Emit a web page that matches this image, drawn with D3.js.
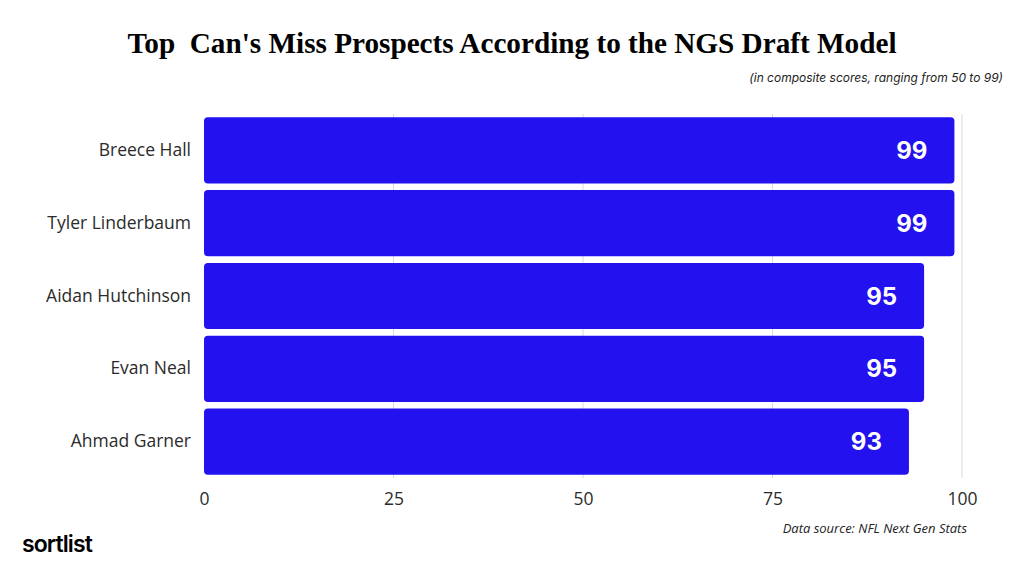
<!DOCTYPE html>
<html>
<head>
<meta charset="utf-8">
<script src="https://cdn.jsdelivr.net/npm/d3@7"></script>
<style>
  body { margin: 0; background: #fff; }
  svg { display: block; }
</style>
</head>
<body>
<div id="chart"></div>
<script>
const players = ["Breece Hall", "Tyler Linderbaum", "Aidan Hutchinson", "Evan Neal", "Ahmad Garner"]
const scores = [99, 99, 95, 95, 93]
const xTicks = [0, 25, 50, 75, 100]

const W = 1024, H = 576
const dim = {ml: 204, mr: 62, mt: 114, mb: 98}
dim.width = W - dim.ml - dim.mr
dim.height = H - dim.mt - dim.mb

const svg = d3.select("#chart").append("svg").attr("width", W).attr("height", H)

const x = d3.scaleLinear().domain([0, 100]).range([0, dim.width])
const y = d3.scaleBand().domain(players).range([0, dim.height]).paddingInner(0.09).paddingOuter(0.045)

const g = svg.append("g").attr("transform", "translate(" + dim.ml + "," + dim.mt + ")")

// grid
g.selectAll("line.grid").data(xTicks.slice(1))
  .join("line")
  .attr("class", "grid")
  .attr("x1", d => x(d)).attr("x2", d => x(d))
  .attr("y1", 0).attr("y2", dim.height)
  .attr("stroke", "#d9d9d9").attr("stroke-width", 1)

const rows = players.map((p, i) => ({name: p, value: scores[i]}))

g.selectAll("rect.bar").data(rows)
  .join("rect")
  .attr("class", "bar")
  .attr("x", 0)
  .attr("y", d => y(d.name))
  .attr("width", d => x(d.value))
  .attr("height", y.bandwidth())
  .attr("rx", 4)
  .attr("fill", "#2311f0")

g.selectAll("text.val").data(rows)
  .join("text")
  .attr("class", "val")
  .attr("x", d => x(d.value) - 27)
  .attr("y", d => y(d.name) + y.bandwidth() / 2)
  .attr("dy", "0.36em")
  .attr("text-anchor", "end")
  .attr("fill", "#fff")
  .style("font-family", "Inter, 'Open Sans', sans-serif")
  .style("font-weight", 700)
  .style("font-size", "24px")
  .text(d => d.value)

// y axis labels
const yAxis = g.append("g").call(d3.axisLeft(y).tickSize(0).tickPadding(13))
yAxis.select(".domain").remove()
yAxis.selectAll("text")
  .style("font-family", "'Open Sans', 'Noto Sans', sans-serif")
  .style("font-size", "17.5px")
  .attr("fill", "#2b2b2b")

// x axis
const xAxis = g.append("g").attr("transform", "translate(0," + dim.height + ")")
  .call(d3.axisBottom(x).tickValues(xTicks).tickSize(0).tickPadding(15))
xAxis.select(".domain").remove()
xAxis.selectAll("text")
  .style("font-family", "'Open Sans', 'Noto Sans', sans-serif")
  .style("font-size", "17.5px")
  .attr("fill", "#2b2b2b")

// titles
svg.append("text")
  .attr("x", 512).attr("y", 53)
  .attr("text-anchor", "middle")
  .attr("xml:space", "preserve")
  .style("white-space", "pre")
  .style("font-family", "'Liberation Serif', 'DejaVu Serif', serif")
  .style("font-weight", 700)
  .style("font-size", "30px")
  .attr("textLength", 769)
  .attr("lengthAdjust", "spacingAndGlyphs")
  .attr("fill", "#000")
  .text("Top  Can's Miss Prospects According to the NGS Draft Model")

svg.append("text")
  .attr("x", 1003).attr("y", 82)
  .attr("text-anchor", "end")
  .style("font-family", "Inter, 'Open Sans', sans-serif")
  .style("font-style", "italic")
  .style("font-size", "12px")
  .attr("fill", "#222")
  .text("(in composite scores, ranging from 50 to 99)")

svg.append("text")
  .attr("x", 967).attr("y", 533)
  .attr("text-anchor", "end")
  .style("font-family", "'Open Sans', 'Noto Sans', sans-serif")
  .style("font-style", "italic")
  .style("font-size", "13px")
  .attr("fill", "#222")
  .text("Data source: NFL Next Gen Stats")

svg.append("text")
  .attr("x", 22).attr("y", 552)
  .style("font-family", "Inter, 'Open Sans', sans-serif")
  .style("font-weight", 600)
  .style("font-size", "23px")
  .style("letter-spacing", "-0.9px")
  .attr("fill", "#000")
  .text("sortlist")
</script>
</body>
</html>
